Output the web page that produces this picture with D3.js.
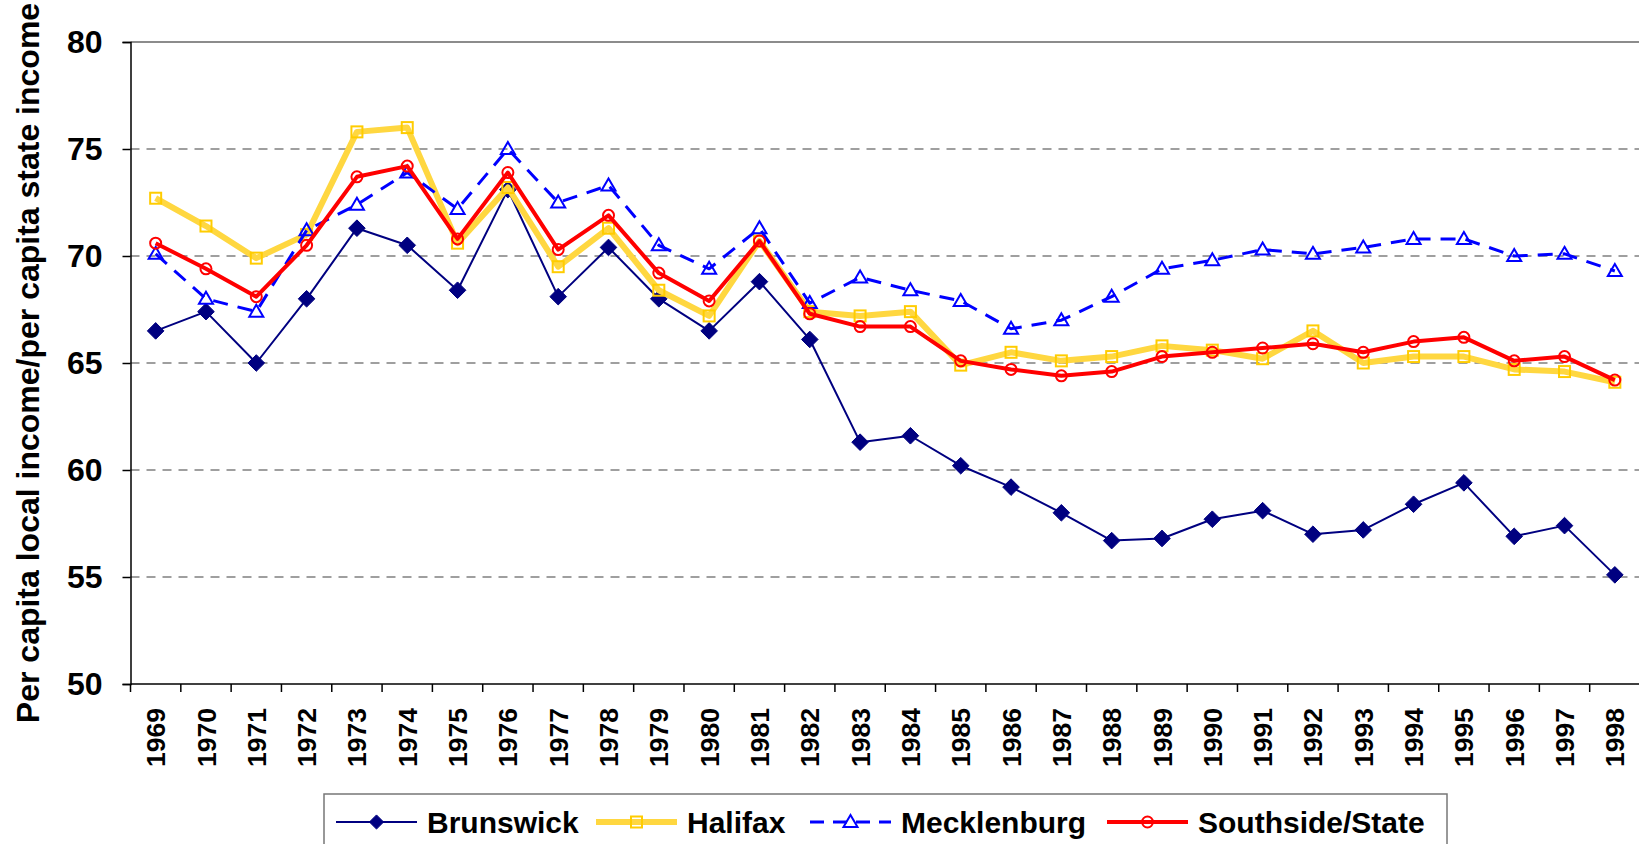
<!DOCTYPE html>
<html>
<head>
<meta charset="utf-8">
<script src="https://cdn.jsdelivr.net/npm/d3@7"></script>
<style>
  body { margin: 0; background: #fff; }
  text { font-family: "Liberation Sans", Arial, sans-serif; font-weight: bold; }
</style>
</head>
<body>
<div id="chart"></div>
<script>
var years = [1969, 1970, 1971, 1972, 1973, 1974, 1975, 1976, 1977, 1978, 1979, 1980, 1981, 1982, 1983,
  1984, 1985, 1986, 1987, 1988, 1989, 1990, 1991, 1992, 1993, 1994, 1995, 1996, 1997, 1998];

var brunswick = [66.5, 67.4, 65.0, 68.0, 71.3, 70.5, 68.4, 73.1, 68.1, 70.4, 68.0, 66.5, 68.8, 66.1, 61.3,
  61.6, 60.2, 59.2, 58.0, 56.7, 56.8, 57.7, 58.1, 57.0, 57.2, 58.4, 59.4, 56.9, 57.4, 55.1];
var halifax = [72.7, 71.4, 69.9, 71.0, 75.8, 76.0, 70.6, 73.2, 69.5, 71.3, 68.4, 67.2, 70.7, 67.4, 67.2,
  67.4, 64.9, 65.5, 65.1, 65.3, 65.8, 65.6, 65.2, 66.5, 65.0, 65.3, 65.3, 64.7, 64.6, 64.1];
var mecklenburg = [70.1, 68.0, 67.4, 71.2, 72.4, 73.9, 72.2, 75.0, 72.5, 73.3, 70.5, 69.4, 71.3, 67.8, 69.0,
  68.4, 67.9, 66.6, 67.0, 68.1, 69.4, 69.8, 70.3, 70.1, 70.4, 70.8, 70.8, 70.0, 70.1, 69.3];
var southside = [70.6, 69.4, 68.1, 70.5, 73.7, 74.2, 70.8, 73.9, 70.3, 71.9, 69.2, 67.9, 70.7, 67.3, 66.7,
  66.7, 65.1, 64.7, 64.4, 64.6, 65.3, 65.5, 65.7, 65.9, 65.5, 66.0, 66.2, 65.1, 65.3, 64.2];

var seriesNames = ["Brunswick", "Halifax", "Mecklenburg", "Southside/State"];
var yTicks = [50, 55, 60, 65, 70, 75, 80];

var width = 1639, height = 844;
var margin = { left: 130.5, top: 42, right: -1, bottom: 160 };
var plotW = width - margin.left - margin.right;
var plotH = height - margin.top - margin.bottom;

var styles = [
  { color: "#000080", width: 2, dash: null, marker: "diamond" },
  { color: "#FFD740", width: 6, dash: null, marker: "square", mcolor: "#FFCC00" },
  { color: "#0000FF", width: 3, dash: "15,10", marker: "triangle" },
  { color: "#FF0000", width: 4, dash: null, marker: "circle" }
];

var allSeries = [brunswick, halifax, mecklenburg, southside].map(function (vals, i) {
  return { name: seriesNames[i], style: styles[i], values: vals.map(function (v, j) { return { year: years[j], value: v }; }) };
});

var svg = d3.select("#chart")
  .append("svg")
  .attr("width", width)
  .attr("height", height);

var g = svg.append("g")
  .attr("transform", "translate(" + margin.left + "," + margin.top + ")");

var x = d3.scaleBand()
  .domain(years)
  .range([0, plotW]);

var y = d3.scaleLinear()
  .domain([50, 80])
  .range([plotH, 0]);

// gridlines
g.selectAll(".grid")
  .data(yTicks.filter(function (d) { return d > 50 && d < 80; }))
  .enter()
  .append("line")
  .attr("x1", 0)
  .attr("x2", plotW)
  .attr("y1", d => y(d))
  .attr("y2", d => y(d))
  .style("stroke", "#808080")
  .style("stroke-width", 1.5)
  .style("stroke-dasharray", "9,7");

// top border
g.append("line")
  .attr("x1", 0).attr("x2", plotW)
  .attr("y1", y(80)).attr("y2", y(80))
  .style("stroke", "#8c8c8c")
  .style("stroke-width", 2);

// y axis
var yAxis = g.append("g")
  .call(d3.axisLeft(y).tickValues(yTicks).tickSize(8).tickPadding(20));
yAxis.select(".domain").style("stroke", "#000").style("stroke-width", 1.5);
yAxis.selectAll(".tick line").style("stroke", "#000").style("stroke-width", 1.5);
yAxis.selectAll("text")
  .style("font-size", "32px")
  .style("font-family", "'Liberation Sans', Arial, sans-serif")
  .style("font-weight", "bold")
  .attr("fill", "#000");

// x axis, ticks on band boundaries
var xAxisG = g.append("g").attr("transform", "translate(0," + plotH + ")");
xAxisG.append("line")
  .attr("x1", 0).attr("x2", plotW)
  .style("stroke", "#000").style("stroke-width", 1.5);
xAxisG.selectAll(".xtick")
  .data(years)
  .enter()
  .append("line")
  .attr("x1", d => x(d))
  .attr("x2", d => x(d))
  .attr("y1", 0)
  .attr("y2", 8)
  .style("stroke", "#000").style("stroke-width", 1.5);
xAxisG.selectAll(".xlabel")
  .data(years)
  .enter()
  .append("text")
  .attr("transform", d => "translate(" + (x(d) + x.bandwidth() / 2) + ",24) rotate(-90)")
  .attr("text-anchor", "end")
  .attr("dy", "0.36em")
  .style("font-size", "26.5px")
  .text(d => d);

// y title
svg.append("text")
  .attr("transform", "translate(39," + (margin.top + plotH / 2) + ") rotate(-90)")
  .attr("text-anchor", "middle")
  .style("font-size", "32px")
  .text("Per capita local income/per capita state income");

function drawMarker(sel, type, style, size) {
  var c = style.mcolor || style.color;
  if (type === "diamond") {
    sel.append("path")
      .attr("d", d3.symbol().type(d3.symbolDiamond2).size(size * 1.6))
      .style("fill", c).style("stroke", c).style("stroke-width", 1);
  } else if (type === "square") {
    sel.append("rect")
      .attr("x", -5.5).attr("y", -5.5).attr("width", 11).attr("height", 11)
      .style("fill", "none").style("stroke", c).style("stroke-width", 2);
  } else if (type === "triangle") {
    sel.append("path")
      .attr("d", "M0,-7L7,5L-7,5Z")
      .style("fill", "none").style("stroke", c).style("stroke-width", 2);
  } else {
    sel.append("circle")
      .attr("r", 5.5)
      .style("fill", "none").style("stroke", c).style("stroke-width", 2);
  }
}

var line = d3.line()
  .x(d => x(d.year) + x.bandwidth() / 2)
  .y(d => y(d.value));

allSeries.forEach(function (s) {
  g.append("path")
    .datum(s.values)
    .attr("d", line)
    .style("fill", "none")
    .style("stroke", s.style.color)
    .style("stroke-width", s.style.width)
    .style("stroke-dasharray", s.style.dash)
    .style("stroke-linejoin", "round");

  var m = g.selectAll(".m-" + s.style.marker)
    .data(s.values)
    .enter()
    .append("g")
    .attr("class", "m-" + s.style.marker)
    .attr("transform", d => "translate(" + (x(d.year) + x.bandwidth() / 2) + "," + y(d.value) + ")");
  m.each(function () { drawMarker(d3.select(this), s.style.marker, s.style, 110); });
});

// legend
var legend = svg.append("g");
legend.append("rect")
  .attr("x", 324).attr("y", 794)
  .attr("width", 1123).attr("height", 70)
  .style("fill", "#fff")
  .style("stroke", "#777")
  .style("stroke-width", 1.5);

var legendX = [336, 596, 810, 1107];
allSeries.forEach(function (s, i) {
  var item = legend.append("g").attr("transform", "translate(" + legendX[i] + ",822)");
  item.append("line")
    .attr("x1", 0).attr("x2", 81)
    .style("stroke", s.style.color)
    .style("stroke-width", s.style.width)
    .style("stroke-dasharray", s.style.dash ? "14,9" : null);
  var mk = item.append("g").attr("transform", "translate(40.5,0)");
  drawMarker(mk, s.style.marker, s.style, 80);
  item.append("text")
    .attr("x", 91)
    .attr("dy", "0.35em")
    .style("font-size", "30px")
    .text(s.name);
});
</script>
</body>
</html>
